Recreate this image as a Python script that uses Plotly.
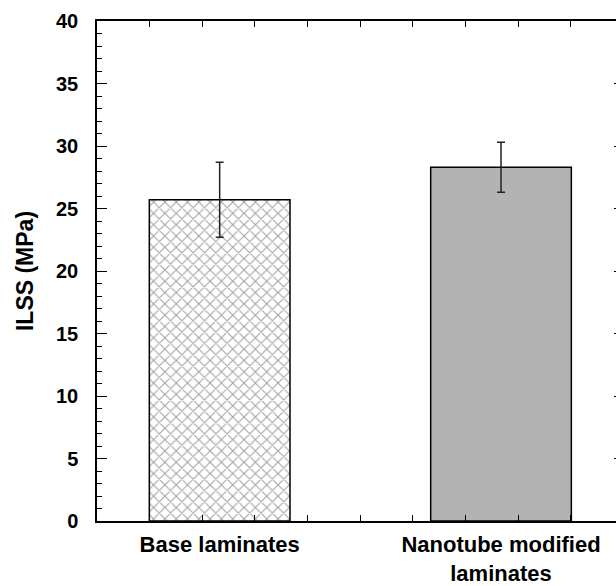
import plotly.graph_objects as go

categories = ["Base laminates", "Nanotube modified<br>laminates"]
ilss_mpa = [25.7, 28.3]
ilss_err = [3.0, 2.0]
bar_colors = ["white", "#b3b3b3"]
bar_patterns = ["x", ""]

y_ticks = [0, 5, 10, 15, 20, 25, 30, 35, 40]
y_tick_labels = [str(v) for v in y_ticks]

FONT = "Liberation Sans, Arial, sans-serif"

fig = go.Figure()
fig.add_trace(go.Bar(
    x=categories, y=ilss_mpa, width=0.5,
    marker=dict(color=bar_colors, line=dict(color="black", width=1.5),
                pattern=dict(shape=bar_patterns, size=8, solidity=0.25,
                             fgcolor="#333333", bgcolor=bar_colors)),
    error_y=dict(type="data", array=ilss_err, visible=True,
                 color="#222222", thickness=1.5, width=4),
    showlegend=False, hoverinfo="skip",
))
# helper traces so the overlay axes (bottom/top tick marks, right ticks) get drawn
fig.add_trace(go.Scatter(x=[None], y=[None], xaxis="x2", yaxis="y",
                         showlegend=False, hoverinfo="skip"))
fig.add_trace(go.Scatter(x=[categories[0]], y=[None], xaxis="x", yaxis="y2",
                         showlegend=False, hoverinfo="skip"))

fig.update_layout(
    width=616, height=586, autosize=False,
    margin=dict(l=97, r=0, t=21, b=62),
    plot_bgcolor="white", paper_bgcolor="white",
    font=dict(family=FONT, color="black"),
    xaxis=dict(
        type="category", range=[-0.436, 1.4087],
        showline=True, linecolor="black", linewidth=1.5, mirror=True,
        ticks="", showgrid=False, zeroline=False,
        tickfont=dict(family=FONT, size=22, color="black", weight="bold"),
        ticklabelstandoff=3,
    ),
    xaxis2=dict(
        overlaying="x", anchor="y", side="bottom", range=[0, 9.856],
        dtick=1, tick0=0, ticks="inside", ticklen=6, tickwidth=1.2,
        tickcolor="black", mirror="ticks", showline=False,
        showticklabels=False, showgrid=False, zeroline=False,
    ),
    yaxis=dict(
        range=[0, 40], tickvals=y_ticks, ticktext=y_tick_labels,
        ticks="inside", ticklen=10, tickwidth=1.2, tickcolor="black",
        showline=True, linecolor="black", linewidth=1.5,
        showgrid=False, zeroline=False,
        minor=dict(dtick=1, ticks="inside", ticklen=5, tickwidth=1.2,
                   tickcolor="black", showgrid=False),
        tickfont=dict(family=FONT, size=20, color="black", weight="bold"),
        ticklabelstandoff=13,
        title=dict(text="ILSS (MPa)", standoff=16,
                   font=dict(family=FONT, size=23, color="black", weight="bold")),
    ),
    yaxis2=dict(
        overlaying="y", anchor="x", side="right", range=[0, 40],
        tickvals=y_ticks, ticks="inside", ticklen=2, tickwidth=1.2,
        tickcolor="black", showline=False, showticklabels=False,
        showgrid=False, zeroline=False,
    ),
)

fig.write_html("out.html")
